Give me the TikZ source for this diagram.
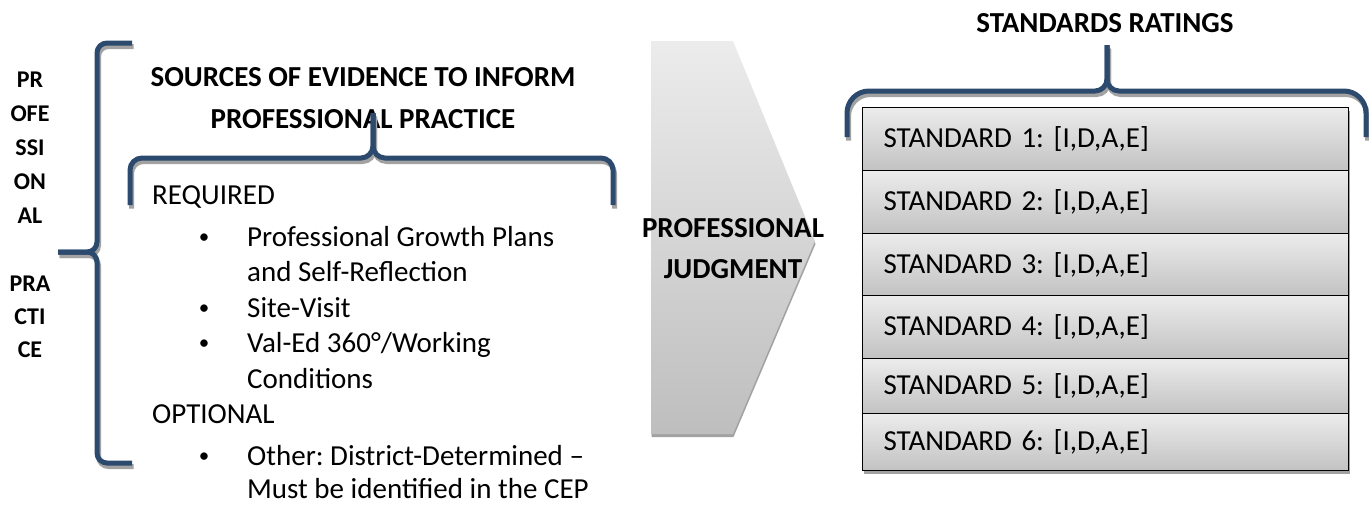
\documentclass[tikz,border=0pt]{standalone}
\usepackage{fontspec}
\setmainfont{Carlito}
\usetikzlibrary{shadows}
\frenchspacing

\definecolor{bracecol}{RGB}{44,73,110}
\definecolor{bracegray}{RGB}{162,162,162}
\definecolor{chevtop}{RGB}{236,236,236}
\definecolor{chevbot}{RGB}{190,190,190}
\definecolor{boxtop}{RGB}{236,236,236}
\definecolor{boxbot}{RGB}{194,194,194}

\begin{document}
\begin{tikzpicture}[
  x = 1pt, y = -1pt,
  body/.style = {
    font = \fontsize{29}{35}\selectfont,
    inner sep = 0pt,
    anchor = base west,
  },
  dot/.style = {
    font = \fontsize{21}{35}\selectfont,
    inner sep = 0pt,
    anchor = base,
  },
  headbold/.style = {
    font = \fontsize{29}{35}\selectfont\bfseries,
    inner sep = 0pt,
    anchor = base,
  },
  sidebold/.style = {
    font = \fontsize{24}{34}\selectfont\bfseries,
    inner sep = 0pt,
    anchor = base,
  },
  ratebox/.style = {
    draw = black,
    line width = 1.2pt,
    top color = boxtop,
    bottom color = boxbot,
    minimum width = 486pt,
    text width = 444pt,
    inner xsep = 21pt,
    inner ysep = 0pt,
    align = left,
    anchor = north west,
    font = \fontsize{29}{35}\selectfont,
    drop shadow = {shadow xshift = 1pt, shadow yshift = -3pt,
                   fill = bracegray, opacity = 1},
  },
  brace/.style = {draw = bracecol, line width = 5pt},
  braceshadow/.style = {draw = bracegray, line width = 5pt, shift = {(1.5, 3.5)}},
]
  \useasboundingbox (0, 0) rectangle (1369, 504);

  % side label
  \foreach \t/\yy in {PR/87, OFE/121, SSI/155, ON/189, AL/223,
                      PRA/291, CTI/324, CE/357}
    \node[sidebold] (side\t) at (30, \yy) {\t};

  % evidence column
  \node[headbold] (srctitle) at (363, 86) {SOURCES OF EVIDENCE TO INFORM};
  \node[headbold] (srctitleb) at (363, 128) {PROFESSIONAL PRACTICE};

  \node[body] (req) at (152, 204) {REQUIRED};
  \node[dot] (dot1) at (204, 243) {\textbullet};
  \node[body] (item1a) at (247, 246) {Professional Growth Plans};
  \node[body] (item1b) at (247, 281) {and Self-Reflection};
  \node[dot] (dot2) at (204, 314) {\textbullet};
  \node[body] (item2) at (247, 317) {Site-Visit};
  \node[dot] (dot3) at (204, 349) {\textbullet};
  \node[body] (item3a) at (247, 352) {Val-Ed 360°/Working};
  \node[body] (item3b) at (247, 388) {Conditions};
  \node[body] (opt) at (152, 423) {OPTIONAL};
  \node[dot] (dot4) at (204, 462) {\textbullet};
  \node[body] (item4a) at (247, 465) {Other: District-Determined –};
  \node[body] (item4b) at (247, 498) {Must be identified in the CEP};

  % judgment chevron
  \path[top color = chevtop, bottom color = chevbot,
        drop shadow = {shadow xshift = 0.5pt, shadow yshift = -3pt,
                       fill = bracegray, opacity = 1}]
    (651, 41) -- (733, 41) -- (815, 241) -- (733, 434) -- (651, 434) -- cycle;
  \node[headbold] (judga) at (733, 237) {PROFESSIONAL};
  \node[headbold] (judgb) at (733, 278) {JUDGMENT};

  % ratings column
  \node[headbold] (ratetitle) at (1105, 32) {STANDARDS RATINGS};
  \foreach \n/\top/\h in {1/107/63, 2/170/63, 3/233/62, 4/295/63,
                          5/358/55, 6/413/57}
    \node[ratebox, minimum height = \h] (std\n) at (862, \top)
      {STANDARD \n: [I,D,A,E]};

  % braces, shadow first
  \foreach \sty in {braceshadow, brace} {
    \draw[\sty, rounded corners = 10] (132, 43) -| (97, 252) -- (58, 252);
    \draw[\sty, rounded corners = 10] (58, 252) -- (97, 252) |- (132, 463);

    \draw[\sty, rounded corners = 12] (130, 205) |- (373, 158) -- (373, 113);
    \draw[\sty, rounded corners = 12] (373, 113) -- (373, 158) -| (613, 205);

    \draw[\sty] (847, 137) [rounded corners = 22] |- (1000, 91)
      [rounded corners = 12] -- (1107, 91) -- (1107, 45);
    \draw[\sty] (1107, 45) [rounded corners = 12] -- (1107, 91)
      -- (1200, 91) [rounded corners = 22] -| (1366, 137);
  }
\end{tikzpicture}
\end{document}
